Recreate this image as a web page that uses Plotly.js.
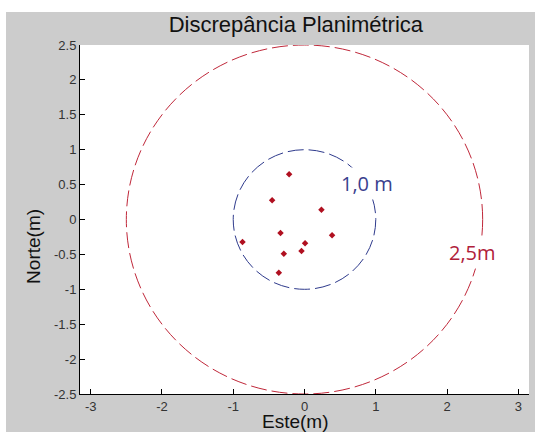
<!DOCTYPE html>
<html>
<head>
<meta charset="utf-8">
<script src="https://cdn.plot.ly/plotly-3.0.1.min.js"></script>
<style>
html,body{margin:0;padding:0;background:#ffffff;width:535px;height:432px;overflow:hidden;}
#chart{position:absolute;left:6px;top:12px;width:529px;height:420px;}
</style>
</head>
<body>
<div id="chart"></div>
<script>
// Data
var pointsEste  = [-0.216, -0.454, 0.238, -0.337, 0.387, -0.870, 0.008, -0.042, -0.290, -0.360];
var pointsNorte = [0.648, 0.275, 0.140, -0.193, -0.226, -0.322, -0.341, -0.451, -0.490, -0.762];
var circleRadii  = [1.0, 2.5];
var circleLabels = ["1,0 m", "2,5m"];
var labelEste    = [0.87, 2.36];
var labelNorte   = [0.52, -0.466];
var xTickVals = [-3, -2, -1, 0, 1, 2, 3];
var xTickText = ["-3", "-2", "-1", "0", "1", "2", "3"];
var yTickVals = [2.5, 2, 1.5, 1, 0.5, 0, -0.5, -1, -1.5, -2, -2.5];
var yTickText = ["2.5", "2", "1.5", "1", "0.5", "0", "-0.5", "-1", "-1.5", "-2", "-2.5"];

var circleColors = ["#2e3a8c", "#c0283a"];
var labelColors  = ["#3a3f8e", "#b0203a"];

var shapes = circleRadii.map(function (r, i) {
  return {
    type: "circle", xref: "x", yref: "y",
    x0: -r, x1: r, y0: -r, y1: r,
    line: {color: circleColors[i], width: 1, dash: "16px,5px"},
    layer: "below"
  };
});

var annotations = circleLabels.map(function (t, i) {
  return {
    text: t, x: labelEste[i], y: labelNorte[i], xref: "x", yref: "y",
    xanchor: "center", yanchor: "middle",
    showarrow: false, bgcolor: "#ffffff", borderpad: 2,
    font: {family: "Open Sans, DejaVu Sans, sans-serif", size: 20, color: labelColors[i]}
  };
});
annotations.push({
  text: "Este(m)", xref: "paper", yref: "paper", x: 0.48, y: -0.078,
  xanchor: "center", yanchor: "middle",
  showarrow: false, font: {family: "Liberation Sans, Arial, sans-serif", size: 19, color: "#111"}
});
annotations.push({
  text: "Norte(m)", xref: "paper", yref: "paper", x: -0.105, y: 0.424,
  xanchor: "center", yanchor: "middle",
  textangle: -90, showarrow: false,
  font: {family: "Liberation Sans, Arial, sans-serif", size: 19, color: "#111"}
});

var traces = [{
  type: "scatter", mode: "markers",
  x: pointsEste, y: pointsNorte,
  marker: {symbol: "diamond", size: 5, color: "#b01020"},
  hoverinfo: "skip"
}];

var layout = {
  width: 529, height: 420,
  margin: {l: 74, r: 6, t: 33, b: 38, pad: 0},
  paper_bgcolor: "#cccccc",
  plot_bgcolor: "#ffffff",
  showlegend: false,
  title: {
    text: "Discrepância Planimétrica",
    xref: "container", yref: "container",
    x: 0.548, y: 0.971, xanchor: "center", yanchor: "middle",
    font: {family: "Liberation Sans, Arial, sans-serif", size: 22, color: "#111"}
  },
  xaxis: {
    range: [-3.15, 3.15], tickvals: xTickVals, ticktext: xTickText,
    showgrid: false, zeroline: false, showline: true, linecolor: "#000", linewidth: 1,
    ticks: "inside", ticklen: 5, tickcolor: "#000", mirror: false,
    tickfont: {family: "Liberation Sans, Arial, sans-serif", size: 13, color: "#333"}
  },
  yaxis: {
    range: [-2.5, 2.5], tickvals: yTickVals, ticktext: yTickText,
    showgrid: false, zeroline: false, showline: true, linecolor: "#000", linewidth: 1,
    ticks: "inside", ticklen: 5, tickcolor: "#000", mirror: false,
    tickfont: {family: "Liberation Sans, Arial, sans-serif", size: 13, color: "#333"}
  },
  shapes: shapes,
  annotations: annotations
};

Plotly.newPlot("chart", traces, layout, {displayModeBar: false, staticPlot: true});
</script>
</body>
</html>
